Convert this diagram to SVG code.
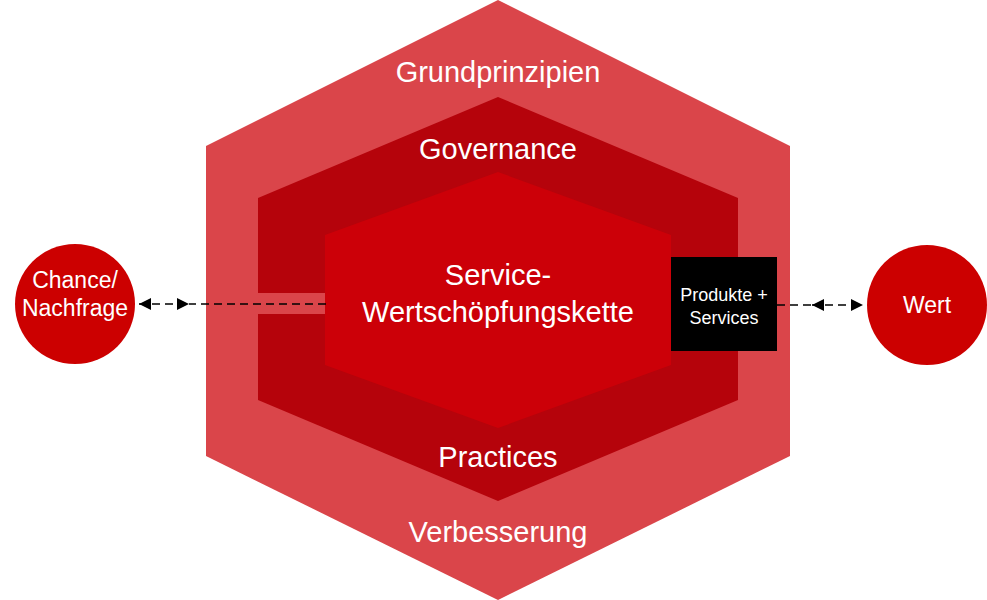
<svg xmlns="http://www.w3.org/2000/svg" width="987" height="600" viewBox="0 0 987 600">
<style>
text{font-family:"Liberation Sans",Arial,sans-serif;fill:#fff;text-anchor:middle}
.l{font-size:29px}.c{font-size:23px}.s{font-size:18px}
.d{stroke:#000;stroke-width:1.3;stroke-dasharray:8,5;fill:none}
</style>
<defs>
<marker id="a" viewBox="0 0 10 10" refX="10" refY="5" markerWidth="12" markerHeight="12" markerUnits="userSpaceOnUse" orient="auto-start-reverse"><path d="M0,0L10,5L0,10z" fill="#000"/></marker>
</defs>
<g id="outer"><polygon points="498,0 790,146 790,456 498,600 206,456 206,146" fill="#DA454A"/>
<text class="l" x="498" y="82">Grundprinzipien</text><text class="l" x="498" y="542">Verbesserung</text></g>
<g id="middle"><polygon points="498,97 738,198 738,400 498,501 258,400 258,198" fill="#B5030B"/>
<rect x="258" y="293" width="68" height="21" fill="#DA454A"/>
<text class="l" x="498" y="159">Governance</text><text class="l" x="498" y="467">Practices</text></g>
<g id="inner"><polygon points="498,172 671,235 671,365 498,428 325,365 325,235" fill="#CC0008"/>
<text class="l" x="498" y="285">Service-</text><text class="l" x="498" y="322">Wertschöpfungskette</text></g>
<g id="products"><rect x="671" y="257" width="106" height="94" fill="#000"/>
<text class="s" x="724" y="301">Produkte +</text><text class="s" x="724" y="324">Services</text></g>
<g id="chance"><circle cx="75" cy="304" r="60" fill="#CC0000"/>
<text class="c" x="75" y="288">Chance/</text><text class="c" x="75" y="316">Nachfrage</text></g>
<g id="wert"><circle cx="927" cy="305" r="60" fill="#CC0000"/><text class="c" x="927" y="313">Wert</text></g>
<g id="connectors">
<line class="d" x1="326" y1="304" x2="189" y2="304"/>
<line class="d" x1="139" y1="304" x2="189" y2="304" marker-start="url(#a)" marker-end="url(#a)"/>
<line class="d" x1="777" y1="305" x2="812" y2="305"/>
<line class="d" x1="812" y1="305" x2="863" y2="305" marker-start="url(#a)" marker-end="url(#a)"/>
</g>
</svg>
